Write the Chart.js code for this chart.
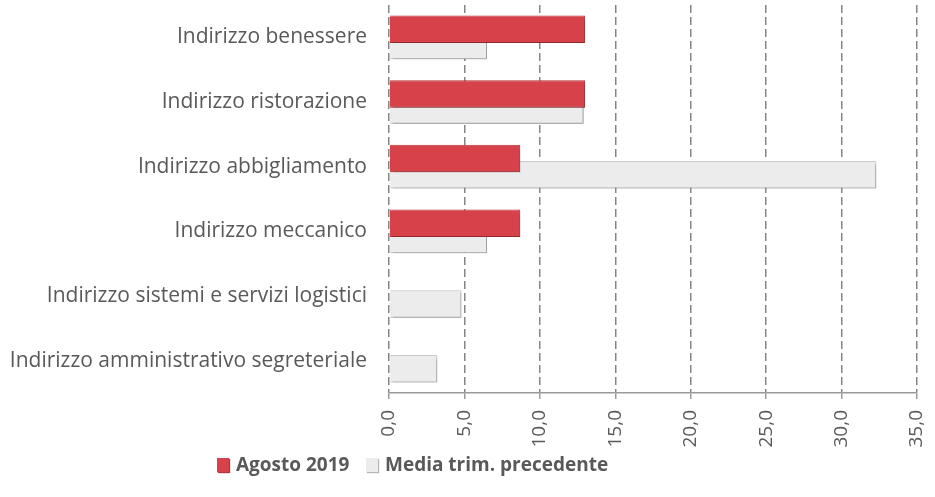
<!DOCTYPE html>
<html>
<head>
<meta charset="utf-8">
<script src="https://cdn.jsdelivr.net/npm/chart.js@4.4.1/dist/chart.umd.min.js"></script>
<style>
  html, body { margin: 0; padding: 0; background: #fff; }
  #wrap { position: relative; width: 935px; height: 497px; }
  .legend-item { position: absolute; top: 451px; font-family: "Open Sans", sans-serif; font-weight: bold;
                 font-size: 19px; color: #595959; white-space: nowrap; }
  .legend-item i { display: inline-block; width: 12px; height: 14px; margin-right: 7px; vertical-align: -1px; }
</style>
</head>
<body>
<div id="wrap">
  <canvas id="myChart" width="935" height="497"></canvas>
</div>
<script>
// Categories and values
var categories = [
  "Indirizzo benessere",
  "Indirizzo ristorazione",
  "Indirizzo abbigliamento",
  "Indirizzo meccanico",
  "Indirizzo sistemi e servizi logistici",
  "Indirizzo amministrativo segreteriale"
];
var agosto2019 = [13.0, 13.0, 8.7, 8.7, 0, 0];
var mediaTrim = [6.5, 12.9, 32.3, 6.5, 4.8, 3.2];
var seriesNames = ["Agosto 2019", "Media trim. precedente"];
var xTicks = [0, 5, 10, 15, 20, 25, 30, 35];

var redFill = "#d7414a";
var greyFill = "#ececec";

// soft drop shadow under the bars
var shadowPlugin = {
  id: "barShadow",
  beforeDatasetsDraw: function (chart) {
    var ctx = chart.ctx;
    ctx.save();
    ctx.shadowColor = "rgba(0,0,0,0.35)";
    ctx.shadowBlur = 3;
    ctx.shadowOffsetX = 2;
    ctx.shadowOffsetY = 2;
  },
  afterDatasetsDraw: function (chart) {
    chart.ctx.restore();
  }
};

var ctx = document.getElementById("myChart").getContext("2d");
var myChart = new Chart(ctx, {
  type: "bar",
  data: {
    labels: categories,
    datasets: [
      {
        label: seriesNames[0],
        data: agosto2019,
        backgroundColor: redFill,
        borderColor: "#bd343b",
        borderWidth: 1,
        categoryPercentage: 0.5,
        barPercentage: 1.7
      },
      {
        label: seriesNames[1],
        data: mediaTrim,
        backgroundColor: greyFill,
        borderColor: "#cccccc",
        borderWidth: 1,
        categoryPercentage: 0.5,
        barPercentage: 1.7
      }
    ]
  },
  options: {
    indexAxis: "y",
    responsive: false,
    animation: false,
    layout: { padding: { left: 0, right: 18, top: 5, bottom: 44 } },
    plugins: {
      legend: { display: false },
      tooltip: { enabled: false }
    },
    scales: {
      x: {
        min: 0,
        max: 35,
        afterBuildTicks: function (scale) {
          scale.ticks = xTicks.map(function (v) { return { value: v }; });
        },
        afterFit: function (scale) {
          scale.height = 60;
          scale.paddingLeft = 0;
          scale.paddingRight = 0;
        },
        grid: {
          color: "#858585",
          lineWidth: 1.5,
          tickBorderDash: [],
          tickColor: "#9a9a9a",
          tickLength: 6,
          drawTicks: true
        },
        border: { display: true, color: "#9a9a9a", width: 1.5, dash: [8, 4] },
        ticks: {
          minRotation: 90,
          maxRotation: 90,
          padding: 11,
          color: "#595959",
          font: { family: "Open Sans", size: 19 },
          callback: function (v) { return Number(v).toFixed(1).replace(".", ","); }
        }
      },
      y: {
        afterFit: function (scale) {
          scale.width = 389;
          scale.paddingTop = 0;
          scale.paddingBottom = 0;
        },
        grid: { display: false, drawTicks: false },
        border: { display: false },
        ticks: {
          padding: 22,
          color: "#595959",
          font: { family: "Open Sans", size: 21 }
        }
      }
    }
  },
  plugins: [shadowPlugin]
});

// legend below the chart
var wrap = document.getElementById("wrap");
var fills = [redFill, greyFill];
var edges = ["#b8343a", "#b5b5b5"];
var lefts = [217, 366];
seriesNames.forEach(function (name, i) {
  var item = document.createElement("div");
  item.className = "legend-item";
  item.style.left = lefts[i] + "px";
  var box = document.createElement("i");
  box.style.background = fills[i];
  box.style.boxShadow = "1px 1px 1px " + edges[i];
  item.appendChild(box);
  item.appendChild(document.createTextNode(name));
  wrap.appendChild(item);
});
</script>
</body>
</html>
